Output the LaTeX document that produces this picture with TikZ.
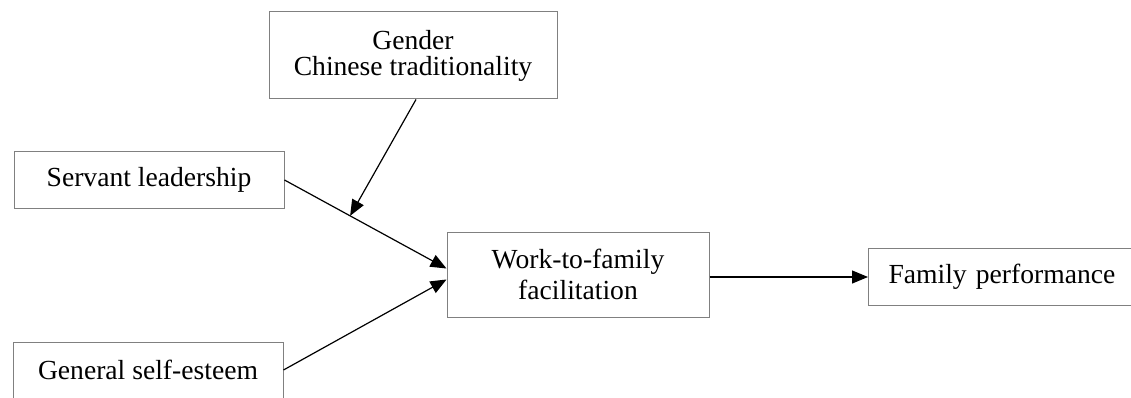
\documentclass[tikz,border=0pt]{standalone}
\usepackage{fontspec}
\setmainfont{Liberation Serif}
\usetikzlibrary{arrows.meta,calc}
\begin{document}
\begin{tikzpicture}[x=1pt,y=-1pt,
  box/.style={draw=black!50, line width=1pt, rectangle, inner sep=0pt, align=center,
    font=\fontsize{27.6}{26}\selectfont},
  conn/.style={draw=black, line width=1.2pt, -{Triangle[length=16pt,width=13pt]}}]
\useasboundingbox (0,0) rectangle (1131,398);
\node[box, minimum width=270pt, minimum height=56pt] (s) at (149,180) {Servant leadership};
\node[box, anchor=north, minimum width=270pt, text height=37pt, text depth=40pt] (e) at (148,342) {General self-esteem};
\node[box, minimum width=288pt, minimum height=87pt] (g) at (413,55.5) {Gender\\Chinese traditionality};
\node[box, minimum width=262pt, minimum height=85pt, font=\fontsize{27.6}{31}\selectfont] (w) at (578,274.5) {Work-to-family\\facilitation};
\node[box, anchor=north west, minimum height=57pt, text width=400pt, align=left, inner xsep=20pt] (f) at (868,248) {Family performance};
\coordinate (w1) at ($(w.west)+(0,-6)$);
\coordinate (w2) at ($(w.west)+(0,5)$);
\draw[conn] (s.east) -- (w1);
\draw[conn] (e.east |- 0,370) -- (w2);
\coordinate (m) at ($(s.east)!0.405!(w1)$);
\draw[conn] ($(g.south)+(3,0)$) -- (m);
\draw[conn] (w.east |- f.west) -- (f.west);
\end{tikzpicture}
\end{document}
